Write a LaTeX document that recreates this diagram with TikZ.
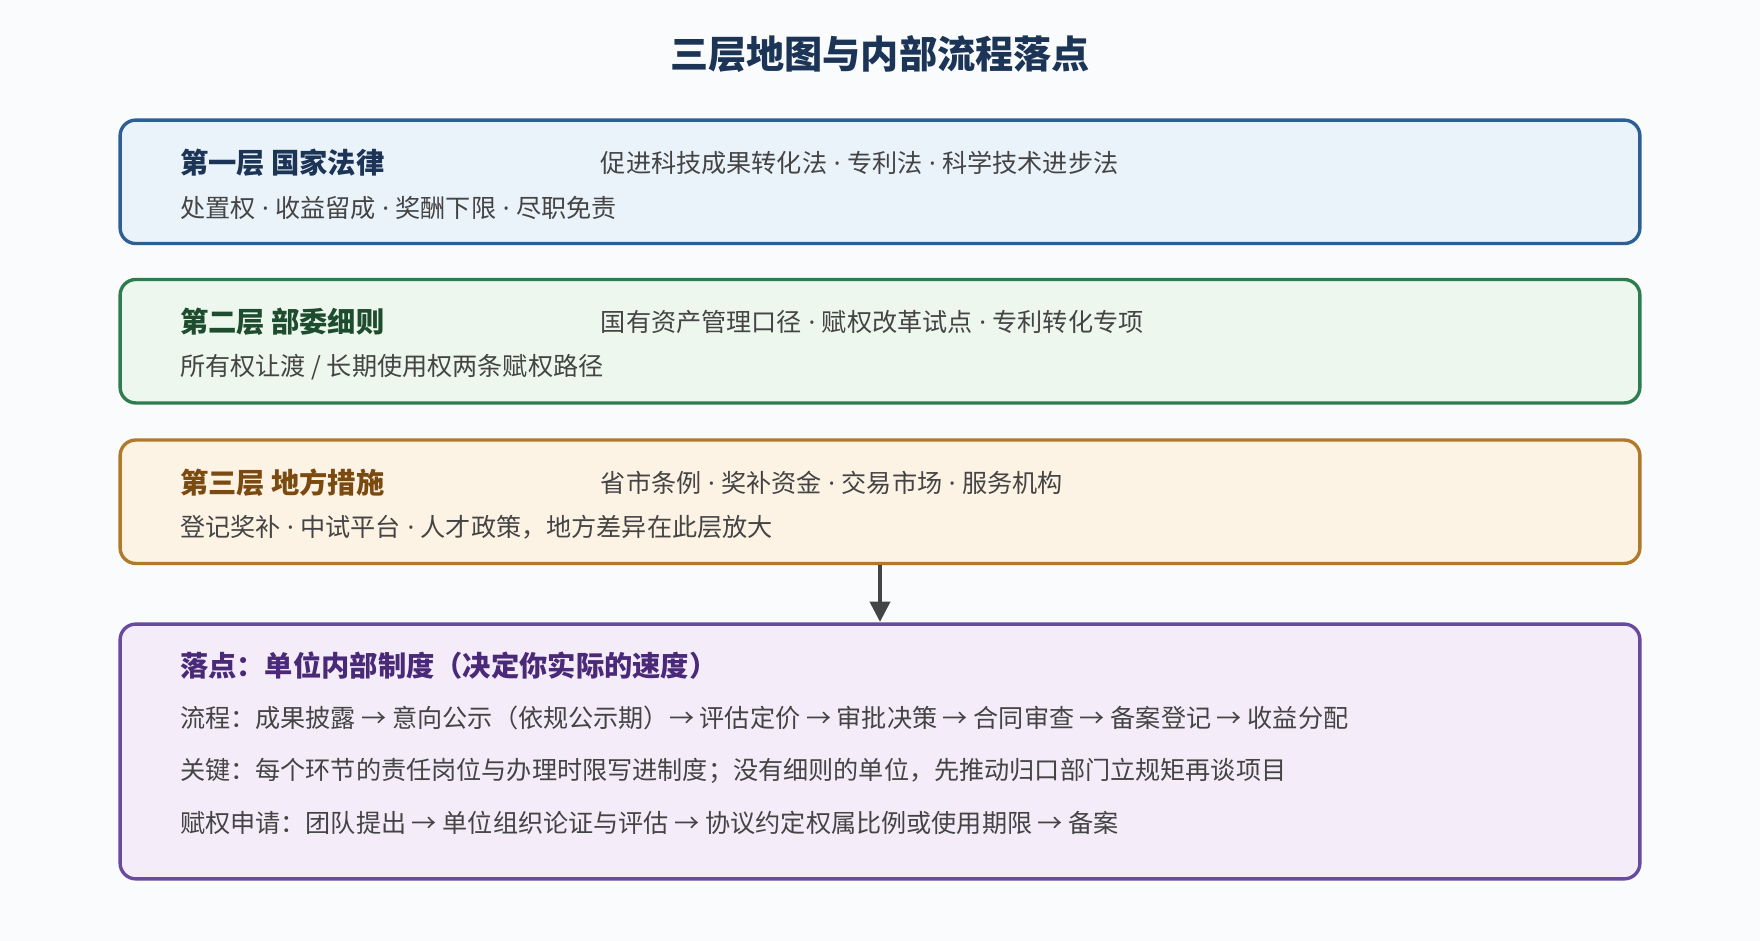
\documentclass[tikz,border=0pt]{standalone}
\usepackage{fontspec}
\setmainfont{Noto Sans CJK SC}
\newfontfamily\latinfont{Noto Sans}
\newcommand{\dt}{{\latinfont\ ·\ }}
\usetikzlibrary{arrows.meta}
\definecolor{bgc}{HTML}{FAFBFD}
\definecolor{lineA}{HTML}{2C5F93}\definecolor{fillA}{HTML}{EAF2FA}\definecolor{headA}{HTML}{1C3557}
\definecolor{lineB}{HTML}{2E7D4F}\definecolor{fillB}{HTML}{EDF7EE}\definecolor{headB}{HTML}{1D4D2E}
\definecolor{lineC}{HTML}{B07A2A}\definecolor{fillC}{HTML}{FDF3E5}\definecolor{headC}{HTML}{7A4A10}
\definecolor{lineD}{HTML}{6A4A9C}\definecolor{fillD}{HTML}{F4ECF8}\definecolor{headD}{HTML}{4A2A78}
\definecolor{txt}{HTML}{444444}
\tikzset{
  layer/.style={draw=#1,line width=1.5pt,rounded corners=7pt},
  head/.style={anchor=west,inner sep=0pt,font=\fontsize{12.6}{14}\selectfont\bfseries,text=#1},
  body/.style={anchor=west,inner sep=0pt,font=\fontsize{11.2}{13}\selectfont,text=txt},
}
\begin{document}
\begin{tikzpicture}[x=0.5pt,y=-0.5pt]
\fill[bgc] (0,0) rectangle (1568,838);
\node[font=\fontsize{17}{20}\selectfont\bfseries,text=headA] (title) at (784,48) {三层地图与内部流程落点};

\draw[layer=lineA,fill=fillA] (107,107) rectangle (1461,217);
\node[head=headA] (h1) at (160,145) {第一层 国家法律};
\node[body] (r1) at (535,145) {促进科技成果转化法\dt 专利法\dt 科学技术进步法};
\node[body] (s1) at (160,185) {处置权\dt 收益留成\dt 奖酬下限\dt 尽职免责};

\draw[layer=lineB,fill=fillB] (107,249) rectangle (1461,359);
\node[head=headB] (h2) at (160,287) {第二层 部委细则};
\node[body] (r2) at (535,287) {国有资产管理口径\dt 赋权改革试点\dt 专利转化专项};
\node[body] (s2) at (160,327) {所有权让渡 / 长期使用权两条赋权路径};

\draw[layer=lineC,fill=fillC] (107,392) rectangle (1461,502);
\node[head=headC] (h3) at (160,430) {第三层 地方措施};
\node[body] (r3) at (535,430) {省市条例\dt 奖补资金\dt 交易市场\dt 服务机构};
\node[body] (s3) at (160,470) {登记奖补\dt 中试平台\dt 人才政策，地方差异在此层放大};

\draw[layer=lineD,fill=fillD] (107,556) rectangle (1461,783);
\node[head=headD] (h4) at (160,593) {落点：单位内部制度（决定你实际的速度）};
\node[body] (l1) at (160,640) {流程：成果披露 → 意向公示（依规公示期）→ 评估定价 → 审批决策 → 合同审查 → 备案登记 → 收益分配};
\node[body] (l2) at (160,687) {关键：每个环节的责任岗位与办理时限写进制度；没有细则的单位，先推动归口部门立规矩再谈项目};
\node[body] (l3) at (160,733) {赋权申请：团队提出 → 单位组织论证与评估 → 协议约定权属比例或使用期限 → 备案};

\coordinate (top) at (784,503);
\coordinate (bot) at (784,554);
\draw[-{Triangle[length=9pt,width=9pt]},line width=1.5pt,draw=txt,fill=txt] (top) -- (bot);
\end{tikzpicture}
\end{document}
